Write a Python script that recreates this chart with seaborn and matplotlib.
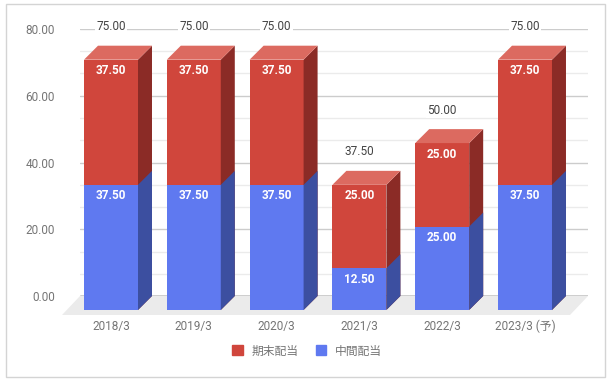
import matplotlib
matplotlib.use('Agg')
import matplotlib.pyplot as plt
from matplotlib.patches import Polygon, Patch, Rectangle
from matplotlib.ticker import MultipleLocator
import seaborn as sns
import pandas as pd

categories = ['2018/3', '2019/3', '2020/3', '2021/3', '2022/3', '2023/3 (予)']
interim = [37.5, 37.5, 37.5, 12.5, 25.0, 37.5]    # 中間配当
year_end = [37.5, 37.5, 37.5, 25.0, 25.0, 37.5]   # 期末配当
totals = [a + b for a, b in zip(interim, year_end)]

red, red_top, red_side = '#d0463c', '#dc6a60', '#8b2b26'
blue, blue_side = '#5f79f0', '#3c4fa0'

sns.set_theme(style='white')
plt.rcParams['font.family'] = ['Roboto', 'Noto Sans CJK JP']

W, H = 614, 383
fig = plt.figure(figsize=(W / 100, H / 100), dpi=100)
ax = fig.add_axes([80 / W, 1 - 296 / H, (588 - 80) / W, (296 - 29) / H])

df = pd.DataFrame({'cat': categories, 'total': totals, 'interim': interim})
bw = 0.652
sns.barplot(data=df, x='cat', y='total', color=red, width=bw, saturation=1,
            errorbar=None, ax=ax)
sns.barplot(data=df, x='cat', y='interim', color=blue, width=bw, saturation=1,
            errorbar=None, ax=ax)

x0, x1 = -0.5435, 5.592
ax.set_xlim(x0, x1)
ax.set_ylim(0, 80)

# depth of the 3d effect in data units (~14px)
DX, DY = 0.169, 4.19

for k, p in enumerate(ax.patches):
    p.set_x(p.get_x() - DX)
    p.set_y(p.get_y() - DY)
    p.set_clip_on(False)
    p.set_linewidth(0)
    p.set_zorder(3 if k < 6 else 4)


def draw_side(i, top, side, z):
    r = i + bw / 2
    ax.add_patch(Polygon([(r - DX, -DY), (r, 0), (r, top), (r - DX, top - DY)],
                         closed=True, color=side, lw=0, clip_on=False, zorder=z))


def draw_top(i, top, face, z):
    r = i + bw / 2
    l = i - bw / 2
    ax.add_patch(Polygon([(l - DX, top - DY), (r - DX, top - DY), (r, top), (l, top)],
                         closed=True, color=face, lw=0, clip_on=False, zorder=z))


for i, (t, b) in enumerate(zip(totals, interim)):
    draw_side(i, t, red_side, 3)
    draw_top(i, t, red_top, 3)
    draw_side(i, b, blue_side, 4)

# floor
FX, FY = 0.217, 5.69
ax.add_patch(Polygon([(x0, 0), (x1, 0), (x1 - FX, -FY), (x0 - FX, -FY)],
                     closed=True, color='#ebebeb', lw=0, clip_on=False, zorder=1))
ax.axhline(0, color='#333333', lw=1, zorder=2)

# grid
ax.yaxis.set_major_locator(MultipleLocator(20))
ax.yaxis.set_minor_locator(MultipleLocator(20 / 3))
ax.grid(axis='y', which='major', color='#cccccc', lw=1, zorder=0)
ax.grid(axis='y', which='minor', color='#ebebeb', lw=1, zorder=0)
ax.grid(axis='x', visible=False)
ax.set_axisbelow(True)
for s in ax.spines.values():
    s.set_visible(False)

ax.set_yticks([0, 20, 40, 60, 80], [f'{v:.2f}' for v in [0, 20, 40, 60, 80]])
ax.set_xticks([i - DX for i in range(len(categories))], categories)
ax.tick_params(axis='y', which='both', length=0, pad=18, labelsize=8.5, labelcolor='#757575')
ax.tick_params(axis='x', length=0, pad=17, labelsize=8.5, labelcolor='#757575')
ax.set_xlabel('')
ax.set_ylabel('')

# labels
for i, (t, b) in enumerate(zip(totals, interim)):
    ax.text(i - DX, t + 5.7, f'{t:.2f}', ha='center', va='center', fontsize=8.5,
            color='#444444', zorder=6, clip_on=False,
            bbox=dict(facecolor='white', edgecolor='none', pad=1))
    ax.text(i - DX, t - DY - 3.3, f'{t - b:.2f}', ha='center', va='center',
            fontsize=8.5, fontweight='bold', color='white', zorder=6)
    ax.text(i - DX, b - DY - 3.3, f'{b:.2f}', ha='center', va='center',
            fontsize=8.5, fontweight='bold', color='white', zorder=6)

handles = [Patch(color=red, label='期末配当'), Patch(color=blue, label='中間配当')]
fig.legend(handles=handles, loc='center', bbox_to_anchor=(307 / W, 1 - 351 / H),
           ncol=2, frameon=False, handlelength=0.93, handleheight=0.93,
           handletextpad=0.68, columnspacing=1.44, fontsize=8.5, labelcolor='#757575')

fig.add_artist(Rectangle((6 / W, 1 - 377 / H), (605 - 6) / W, (377 - 4) / H,
                         fill=False, edgecolor='#d4d4d4', lw=1, transform=fig.transFigure))

fig.savefig('out.png', dpi=100)
